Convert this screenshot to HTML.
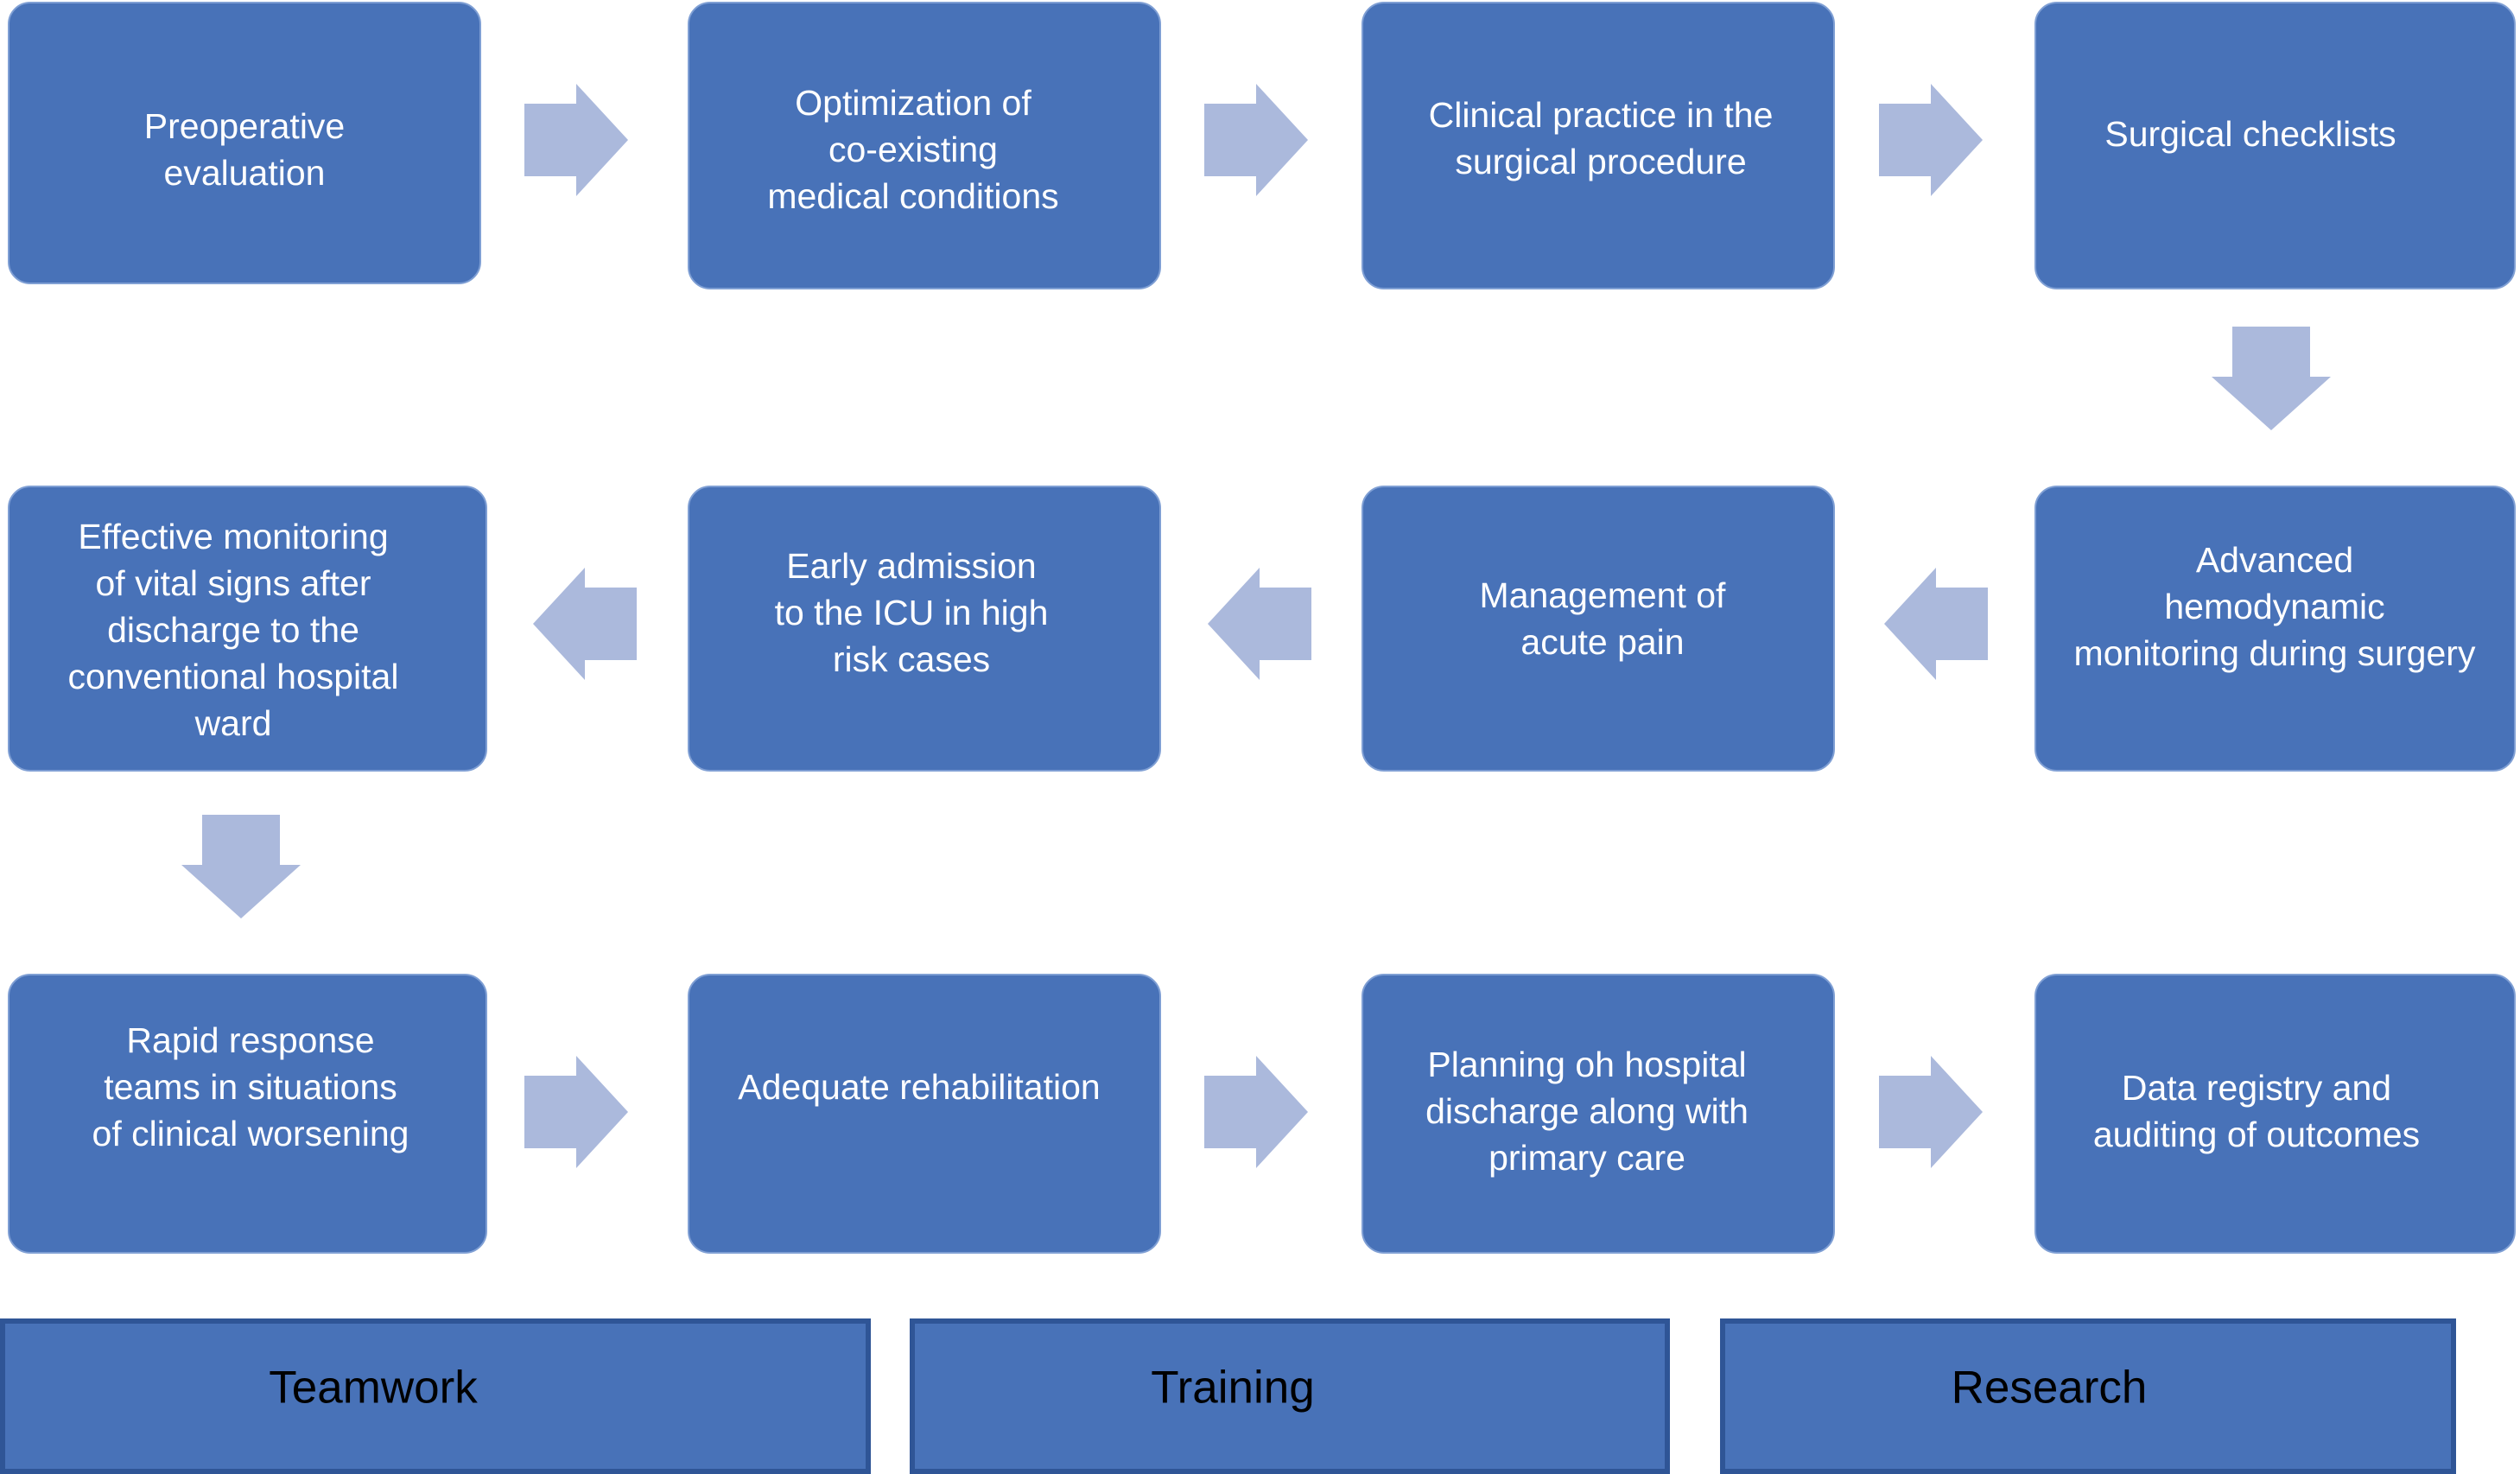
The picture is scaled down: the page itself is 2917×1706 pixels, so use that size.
<!DOCTYPE html>
<html><head><meta charset="utf-8"><style>
body{margin:0;width:2917px;height:1698px;background:#fff;position:relative;overflow:hidden;font-family:"Liberation Sans",sans-serif}
.b{position:absolute;background:#4872b8;border-radius:26px;border:2px solid #7f9fd4;box-sizing:border-box}
.t{position:absolute;transform:translate(-50%,-50%);color:#fff;font-size:41px;line-height:54px;text-align:center;white-space:nowrap}
.bar{position:absolute;background:#4872b8;border:6px solid #2f5596;box-sizing:border-box;top:1526px;height:180px}
.bt{position:absolute;transform:translate(-50%,-50%);color:#000;font-size:53px;top:1606px;white-space:nowrap}
svg{position:absolute;left:0;top:0}
</style></head><body>
<div class="b" style="left:9px;top:2px;width:548px;height:327px"></div>
<div class="b" style="left:796px;top:2px;width:548px;height:333px"></div>
<div class="b" style="left:1576px;top:2px;width:548px;height:333px"></div>
<div class="b" style="left:2355px;top:2px;width:557px;height:333px"></div>
<div class="b" style="left:9px;top:562px;width:555px;height:331px"></div>
<div class="b" style="left:796px;top:562px;width:548px;height:331px"></div>
<div class="b" style="left:1576px;top:562px;width:548px;height:331px"></div>
<div class="b" style="left:2355px;top:562px;width:557px;height:331px"></div>
<div class="b" style="left:9px;top:1127px;width:555px;height:324px"></div>
<div class="b" style="left:796px;top:1127px;width:548px;height:324px"></div>
<div class="b" style="left:1576px;top:1127px;width:548px;height:324px"></div>
<div class="b" style="left:2355px;top:1127px;width:557px;height:324px"></div>

<div class="t" style="left:283px;top:173px">Preoperative<br>evaluation</div>
<div class="t" style="left:1057px;top:173px">Optimization of<br>co-existing<br>medical conditions</div>
<div class="t" style="left:1853px;top:160px">Clinical practice in the<br>surgical procedure</div>
<div class="t" style="left:2605px;top:155px">Surgical checklists</div>
<div class="t" style="left:270px;top:729px">Effective monitoring<br>of vital signs after<br>discharge to the<br>conventional hospital<br>ward</div>
<div class="t" style="left:1055px;top:709px">Early admission<br>to the ICU in high<br>risk cases</div>
<div class="t" style="left:1855px;top:716px">Management of<br>acute pain</div>
<div class="t" style="left:2633px;top:702px">Advanced<br>hemodynamic<br>monitoring during surgery</div>
<div class="t" style="left:290px;top:1258px">Rapid response<br>teams in situations<br>of clinical worsening</div>
<div class="t" style="left:1064px;top:1258px">Adequate rehabilitation</div>
<div class="t" style="left:1837px;top:1286px">Planning oh hospital<br>discharge along with<br>primary care</div>
<div class="t" style="left:2612px;top:1286px">Data registry and<br>auditing of outcomes</div>

<svg width="2917" height="1698" fill="#abb9dc">
<defs>
<path id="r" d="M0,23 L60,23 L60,0 L120,65 L60,130 L60,107 L0,107 Z"/>
<path id="l" d="M120,23 L60,23 L60,0 L0,65 L60,130 L60,107 L120,107 Z"/>
<path id="d" d="M24,0 L114,0 L114,58 L138,58 L69,120 L0,58 L24,58 Z"/>
</defs>
<use href="#r" x="607" y="97"/><use href="#r" x="1394" y="97"/><use href="#r" x="2175" y="97"/>
<use href="#d" x="2560" y="378"/>
<use href="#l" x="617" y="657"/><use href="#l" x="1398" y="657"/><use href="#l" x="2181" y="657"/>
<use href="#d" x="210" y="943"/>
<use href="#r" x="607" y="1222"/><use href="#r" x="1394" y="1222"/><use href="#r" x="2175" y="1222"/>
</svg>

<div class="bar" style="left:0;width:1008px"></div>
<div class="bar" style="left:1053px;width:880px"></div>
<div class="bar" style="left:1991px;width:852px"></div>
<div class="bt" style="left:432px">Teamwork</div>
<div class="bt" style="left:1427px">Training</div>
<div class="bt" style="left:2372px">Research</div>
</body></html>
